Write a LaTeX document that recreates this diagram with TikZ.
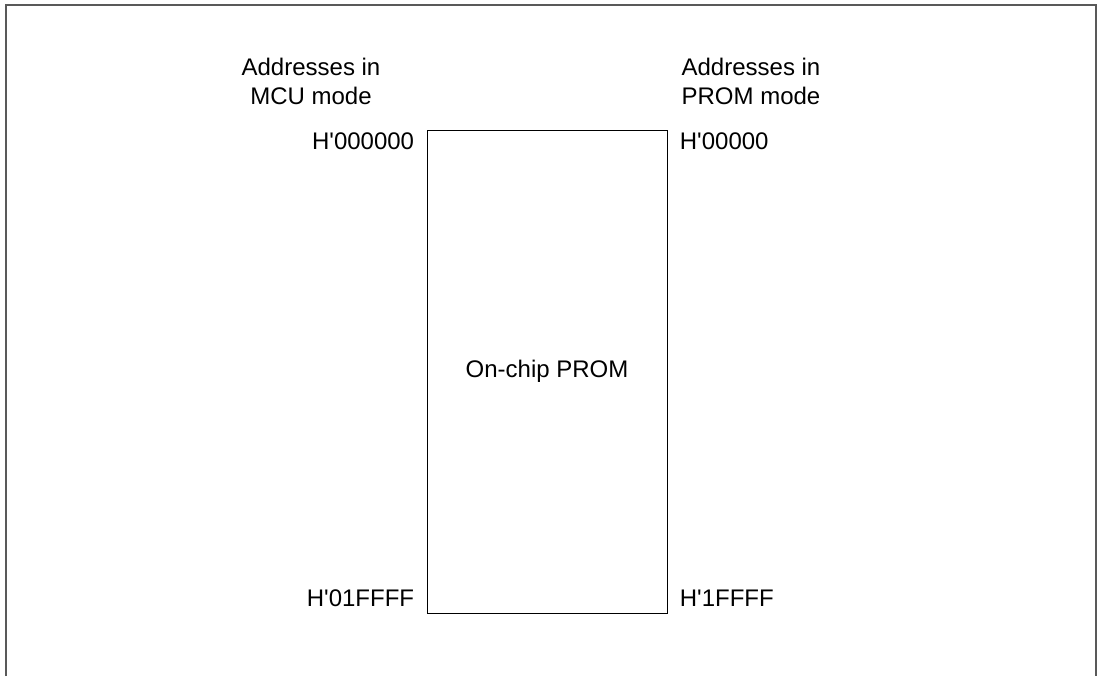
\documentclass[tikz,border=0pt]{standalone}
\usepackage{fontspec}
\setmainfont{Liberation Sans}
\usepackage{tikz}
\usetikzlibrary{positioning}

\newcommand{\hx}{H\textquotesingle}

\begin{document}
\begin{tikzpicture}[
  x=0.5pt, y=-0.5pt,
  font=\fontsize{12}{14.5}\selectfont,
  node distance=2pt and 6pt,
  mem/.style={draw, rectangle, line width=0.5pt, minimum width=120pt, minimum height=241.5pt, inner sep=0pt},
  addr/.style={inner sep=0pt, text depth=0pt},
  head/.style={align=center, inner sep=0pt},
  frame/.style={draw=black!65, line width=0.75pt}
]
\useasboundingbox (0,0) rectangle (1097,676);
\draw[frame] (6,676) -- (6,5) -- (1096,5) -- (1096,676);

\node[mem] (prom) at (547,371.5) {On-chip PROM};

\node[head] (mcuhd) at (311,81) {Addresses in\\MCU mode};
\node[head] (promhd) at (751,81) {Addresses in\\PROM mode};

\node[addr, below left=1.5pt and 6pt of prom.north west] (mcutop) {\hx000000};
\node[addr, above left=3.5pt and 6pt of prom.south west] (mcubot) {\hx01FFFF};
\node[addr, below right=1.5pt and 6pt of prom.north east] (promtop) {\hx00000};
\node[addr, above right=3.5pt and 6pt of prom.south east] (prombot) {\hx1FFFF};
\end{tikzpicture}
\end{document}
